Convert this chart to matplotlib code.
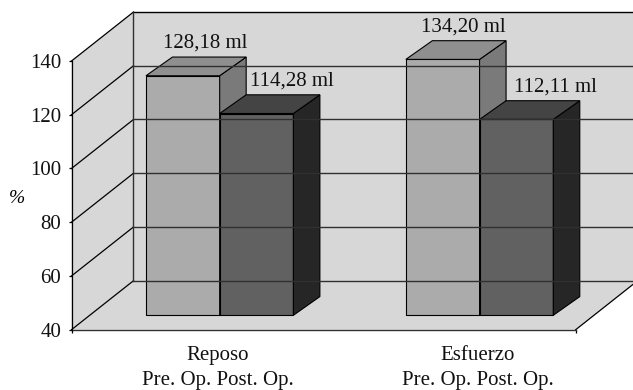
import matplotlib
matplotlib.use('Agg')
import matplotlib.pyplot as plt
from matplotlib.patches import Polygon

plt.rcParams['font.family'] = ['Liberation Serif', 'DejaVu Serif']

categories = ['Reposo', 'Esfuerzo']
sub_label = 'Pre. Op. Post. Op.'
pre_op = [128.18, 134.20]
post_op = [114.28, 112.11]
y_ticks = [40, 60, 80, 100, 120, 140]

# oblique projection: how far one unit of depth shifts a point
DEPTH_X = 62 / 259.9
DEPTH_V = 49 / 2.687
BAR_W = 0.2836
BAR_DEPTH = 0.294
SIDE_X = 26.5 / 259.9
SIDE_V = 18.7 / 2.687
BAR_SCALE = 1.011
X0, X1 = -0.5, 1.44
V0, V1 = 40, 140


def project(x, v, d):
    return (x + d * DEPTH_X, v + d * DEPTH_V)


def face(ax, pts, color, edge='black', lw=0.8):
    ax.add_patch(Polygon(pts, closed=True, facecolor=color, edgecolor=edge,
                         linewidth=lw, clip_on=False, joinstyle='miter'))


def draw_bar(ax, x, value, colors):
    fx, base = project(x, V0, BAR_DEPTH)
    top = base + (value - V0) * BAR_SCALE
    front, roof, side = colors
    r = x + DEPTH_X * BAR_DEPTH + BAR_W
    l = r - BAR_W
    face(ax, [(l, base), (r, base), (r, top), (l, top)], front)
    face(ax, [(r, base), (r + SIDE_X, base + SIDE_V),
              (r + SIDE_X, top + SIDE_V), (r, top)], side)
    face(ax, [(l, top), (r, top), (r + SIDE_X, top + SIDE_V),
              (l + SIDE_X, top + SIDE_V)], roof)
    return l, top


fig = plt.figure(figsize=(6.33, 3.9), dpi=100)
ax = fig.add_axes([71.5 / 633, (390 - 329.7) / 390, 504.2 / 633, 268.7 / 390])
ax.set_xlim(X0, X1)
ax.set_ylim(V0, V1)
ax.patch.set_visible(False)

wall = '#d7d7d7'
# back wall, floor and left wall
face(ax, [project(X0, V0, 1), project(X1, V0, 1), project(X1, V1, 1),
          project(X0, V1, 1)], wall, edge='none')
face(ax, [project(X0, V0, 0), project(X1, V0, 0), project(X1, V0, 1),
          project(X0, V0, 1)], wall, edge='none')
face(ax, [project(X0, V0, 0), project(X0, V0, 1), project(X0, V1, 1),
          project(X0, V1, 0)], wall, edge='none')

for v in y_ticks:
    a, b, c = project(X0, v, 0), project(X0, v, 1), project(X1, v, 1)
    ax.plot([a[0], b[0]], [a[1], b[1]], color='black', lw=0.9, clip_on=False)
    ax.plot([b[0], c[0]], [b[1], c[1]], color='#303030' if v < V1 else 'black',
            lw=1.0, clip_on=False)

b0, b1 = project(X0, V0, 1), project(X0, V1, 1)
ax.plot([b0[0], b1[0]], [b0[1], b1[1]], color='#303030', lw=1.0, clip_on=False)

f0, f1 = project(X1, V0, 0), project(X1, V0, 1)
ax.plot([f0[0], f1[0]], [f0[1], f1[1]], color='black', lw=0.9, clip_on=False)
ax.plot([X0, X1], [V0, V0], color='#303030', lw=1.0, clip_on=False)

pre_colors = ('#ababab', '#8f8f8f', '#7a7a7a')
post_colors = ('#616161', '#444444', '#262626')
# label shift from the middle of each bar's front top edge, in pixels
label_dx = [[22.5, 35.7], [21, 39.5]]

for i in range(len(categories)):
    for j, (vals, colors) in enumerate([(pre_op, pre_colors), (post_op, post_colors)]):
        x = i - BAR_W if j == 0 else i
        l, top = draw_bar(ax, x, vals[i], colors)
        text = f'{vals[i]:.2f}'.replace('.', ',') + ' ml'
        ax.annotate(text, xy=(l + BAR_W / 2, top),
                    xytext=(label_dx[i][j], 32.5), textcoords='offset pixels',
                    ha='center', va='center', fontsize=15, color='#111111',
                    annotation_clip=False, zorder=5)

for i, name in enumerate(categories):
    ax.annotate(name, xy=(i + 0.064, V0), xytext=(0, -26), textcoords='offset pixels',
                ha='center', va='center', fontsize=15, color='#111111', annotation_clip=False)
    ax.annotate(sub_label, xy=(i + 0.064, V0), xytext=(0, -51), textcoords='offset pixels',
                ha='center', va='center', fontsize=15, color='#111111', annotation_clip=False)

for side in ['top', 'right', 'bottom']:
    ax.spines[side].set_visible(False)
ax.spines['left'].set_linewidth(0.9)
ax.set_yticks(y_ticks)
ax.tick_params(axis='y', length=2.5, width=0.9, pad=5.0, labelsize=15, labelcolor='#111111')
ax.set_xticks([X0, X1])
ax.set_xticklabels(['', ''])
ax.tick_params(axis='x', length=2.5, width=0.9)
ax.set_ylabel('%', rotation=0, fontsize=14, style='italic', va='center', ha='center')
ax.yaxis.set_label_coords((17 - 71.5) / 504.2, (329.7 - 199) / 268.7)

fig.savefig('out.png', dpi=100)
